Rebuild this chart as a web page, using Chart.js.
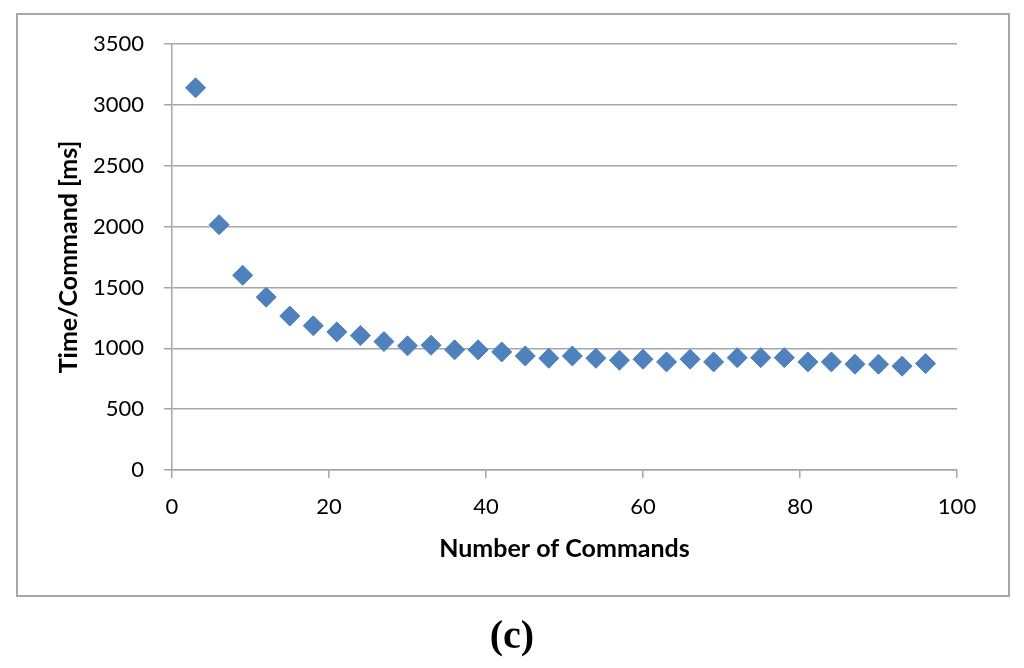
<!DOCTYPE html>
<html>
<head>
<meta charset="utf-8">
<script src="https://cdn.jsdelivr.net/npm/chart.js@4"></script>
<style>
  html, body { margin: 0; padding: 0; background: #fff; }
  #wrap { position: relative; width: 1024px; height: 668px; overflow: hidden; }
  #frame { position: absolute; left: 16px; top: 13px; width: 990px; height: 580px; border: 2px solid #a6a6a6; box-sizing: content-box; pointer-events: none; }
  #cap { position: absolute; left: 0; width: 1024px; top: 610px; text-align: center; font-family: "Liberation Serif", serif; font-weight: bold; font-size: 40px; line-height: 50px; color: #000; }
  canvas { position: absolute; left: 0; top: 0; }
</style>
</head>
<body>
<div id="wrap">
  <canvas id="c" width="1024" height="668"></canvas>
  <div id="frame"></div>
  <div id="cap">(c)</div>
</div>
<script>
const commands = [3, 6, 9, 12, 15, 18, 21, 24, 27, 30, 33, 36, 39, 42, 45, 48, 51, 54, 57, 60, 63, 66, 69, 72, 75, 78, 81, 84, 87, 90, 93, 96];
const timePerCommand = [3140, 2015, 1600, 1420, 1265, 1185, 1135, 1105, 1055, 1020, 1025, 987, 987, 970, 937, 918, 937, 918, 902, 910, 888, 910, 888, 923, 923, 923, 888, 888, 869, 869, 853, 874];
const xTitle = "Number of Commands";
const yTitle = "Time/Command [ms]";

const points = commands.map((x, i) => ({ x: x, y: timePerCommand[i] }));
const gridColor = '#a6a6a6';
const tickFont = { family: 'Lato, "Open Sans", sans-serif', size: 22 };
const titleFont = { family: 'Lato, "Open Sans", sans-serif', size: 25, weight: 'bold' };
const plain = (v) => String(v);

new Chart(document.getElementById('c'), {
  type: 'scatter',
  data: {
    datasets: [{
      data: points,
      pointStyle: 'rectRot',
      pointRadius: 10,
      pointBackgroundColor: '#4f81bd',
      pointBorderColor: '#4a7ebb',
      pointBorderWidth: 1,
      showLine: false
    }]
  },
  options: {
    responsive: false,
    animation: false,
    devicePixelRatio: 1,
    layout: { padding: { left: 0, right: 67, top: 44, bottom: 0 } },
    plugins: { legend: { display: false }, tooltip: { enabled: false } },
    scales: {
      x: {
        type: 'linear',
        min: 0, max: 100,
        ticks: { stepSize: 20, color: '#000', font: tickFont, padding: 16, maxRotation: 0, callback: plain },
        grid: { drawOnChartArea: false, drawTicks: true, tickLength: 8, color: gridColor, lineWidth: 1.5 },
        border: { display: true, color: gridColor, width: 1.5 },
        title: { display: true, text: xTitle, color: '#000', font: titleFont, padding: { top: 0, bottom: 104 } },
        afterFit: (s) => { s.height = 198; }
      },
      y: {
        type: 'linear',
        min: 0, max: 3500,
        ticks: { stepSize: 500, color: '#000', font: tickFont, padding: 20, callback: plain },
        grid: { drawOnChartArea: true, drawTicks: true, tickLength: 8, color: gridColor, lineWidth: 1.5 },
        border: { display: true, color: gridColor, width: 1.5 },
        title: { display: true, text: yTitle, color: '#000', font: titleFont, padding: { top: 54, bottom: 0 } },
        afterFit: (s) => { s.width = 172; }
      }
    }
  }
});
</script>
</body>
</html>
